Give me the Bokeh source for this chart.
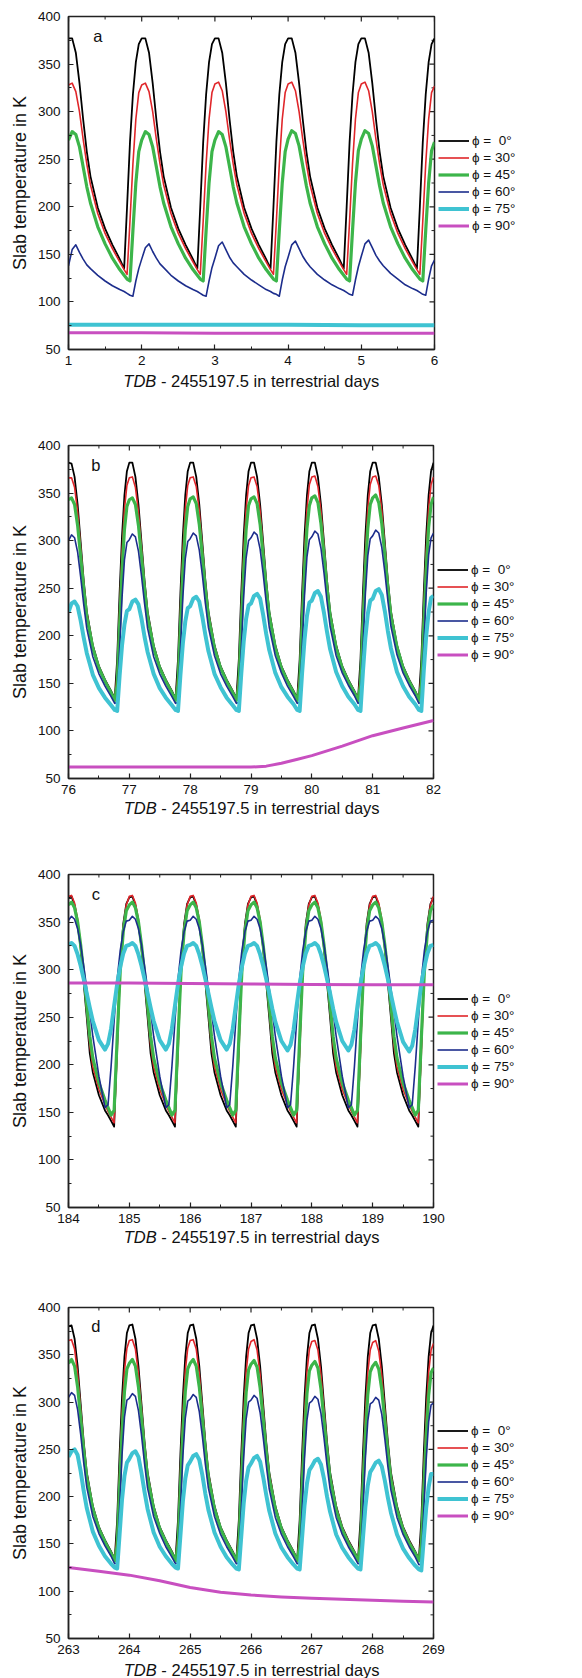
from bokeh.plotting import figure
from bokeh.layouts import column
from bokeh.models import (Range1d, SingleIntervalTicker, Legend, LegendItem, Label)
from bokeh.embed import file_html
from bokeh.resources import INLINE

FONT = "Liberation Sans"
LEGEND_LABELS = ["\u03d5 =  0\u00b0", "\u03d5 = 30\u00b0", "\u03d5 = 45\u00b0",
                 "\u03d5 = 60\u00b0", "\u03d5 = 75\u00b0", "\u03d5 = 90\u00b0"]
COLORS = ["#000000", "#e0262a", "#3cb54a", "#1c2d8c", "#3fc3d2", "#c84fc0"]
WIDTHS = [1.8, 1.6, 3.2, 1.6, 4.0, 3.0]

# ---------------- panel a ----------------
PH_A = [0.0, 0.05, 0.10, 0.15, 0.20, 0.25, 0.30, 0.40, 0.50, 0.60, 0.70, 0.76, 0.80, 0.84, 0.88, 0.92, 0.96]
DAYS_A = [1, 2, 3, 4, 5]
END_A = 6
A_phi0 = [[377, 377, 362, 330, 292, 258, 232, 199, 177, 160, 145, 135, 200, 268, 318, 352, 371],
          [377, 377, 362, 330, 292, 258, 232, 199, 177, 160, 145, 135, 200, 268, 318, 352, 371],
          [377, 377, 362, 330, 292, 258, 232, 199, 177, 160, 145, 135, 200, 268, 318, 352, 371],
          [377, 377, 362, 330, 292, 258, 232, 199, 177, 160, 145, 135, 200, 268, 318, 352, 371],
          [377, 377, 362, 330, 292, 258, 232, 199, 177, 160, 145, 135, 200, 268, 318, 352, 371]]
A_phi0_end = 377
A_phi30 = [[328, 330, 321, 300, 271, 245, 223, 193, 172, 156, 142, 134, 129, 185, 245, 292, 320],
           [328, 330, 321, 300, 271, 245, 223, 193, 172, 156, 142, 134, 129, 185, 245, 292, 320],
           [329, 331, 322, 300, 271, 245, 223, 193, 172, 156, 142, 134, 129, 185, 245, 292, 320],
           [329, 331, 322, 300, 271, 245, 223, 193, 172, 156, 142, 134, 129, 185, 245, 292, 320],
           [329, 331, 322, 300, 271, 245, 223, 193, 172, 156, 142, 134, 129, 185, 245, 292, 320]]
A_phi30_end = 327
A_phi45 = [[270, 279, 276, 263, 242, 221, 204, 179, 161, 146, 134, 128, 124, 122, 175, 225, 258],
           [270, 279, 276, 263, 242, 221, 204, 179, 161, 146, 134, 128, 124, 122, 175, 225, 258],
           [270, 279, 276, 263, 242, 221, 204, 179, 161, 146, 134, 128, 124, 122, 175, 225, 258],
           [271, 280, 277, 264, 243, 222, 204, 179, 161, 146, 134, 128, 124, 122, 175, 225, 259],
           [271, 280, 277, 264, 243, 222, 204, 179, 161, 146, 134, 128, 124, 122, 175, 225, 259]]
A_phi45_end = 268
A_phi60 = [[138, 155, 160, 152, 145, 139, 135, 128, 122, 117, 113, 111, 109, 107, 106, 122, 135],
           [145, 157, 161, 153, 146, 140, 136, 128, 122, 117, 113, 111, 109, 107, 106, 122, 136],
           [146, 159, 163, 155, 147, 141, 137, 129, 123, 118, 113, 111, 109, 108, 106, 123, 137],
           [147, 160, 164, 156, 148, 142, 137, 129, 123, 118, 114, 112, 110, 108, 107, 123, 137],
           [148, 161, 165, 157, 149, 143, 138, 130, 124, 118, 114, 112, 110, 108, 107, 124, 138]]
A_phi60_end = 144
A_flat_x = [1, 2, 3, 4, 5, 6]
A_phi75 = [76, 76, 76, 76, 75.5, 75.5]
A_phi90 = [67.5, 67.5, 67, 67, 67, 67]

# ---------------- panel b ----------------
PH_B = [0.0, 0.05, 0.10, 0.15, 0.20, 0.25, 0.30, 0.40, 0.50, 0.60, 0.70, 0.76, 0.80, 0.84, 0.88, 0.92, 0.96]
DAYS_B = [76, 77, 78, 79, 80, 81]
END_B = 82
B_phi0 = [[382, 381, 367, 338, 298, 258, 226, 190, 168, 154, 142, 134, 175, 245, 305, 348, 373],
          [382, 382, 367, 338, 298, 258, 226, 190, 168, 154, 142, 134, 175, 245, 305, 348, 373],
          [382, 382, 367, 338, 298, 258, 226, 190, 168, 154, 142, 134, 175, 245, 305, 348, 373],
          [382, 382, 367, 338, 298, 258, 226, 190, 168, 154, 142, 134, 175, 245, 305, 348, 373],
          [382, 382, 367, 338, 298, 258, 226, 190, 168, 154, 142, 134, 175, 245, 305, 348, 373],
          [382, 382, 367, 338, 298, 258, 226, 190, 168, 154, 142, 134, 175, 245, 305, 348, 373]]
B_phi0_end = 382
B_phi30 = [[366, 366, 356, 330, 293, 255, 224, 189, 167, 153, 141, 133, 160, 228, 288, 333, 358],
           [366, 367, 356, 330, 293, 255, 224, 189, 167, 153, 141, 133, 160, 228, 288, 333, 358],
           [366, 367, 357, 331, 293, 255, 224, 189, 167, 153, 141, 133, 160, 228, 288, 333, 358],
           [366, 367, 357, 331, 293, 255, 224, 189, 167, 153, 141, 133, 160, 228, 288, 333, 359],
           [367, 368, 357, 331, 294, 256, 224, 189, 167, 153, 141, 133, 160, 228, 288, 334, 359],
           [367, 368, 358, 332, 294, 256, 225, 189, 167, 153, 141, 133, 160, 229, 289, 334, 359]]
B_phi30_end = 367
B_phi45 = [[343, 345, 338, 316, 283, 249, 220, 187, 166, 152, 140, 132, 148, 210, 268, 312, 336],
           [343, 345, 338, 316, 283, 249, 220, 187, 166, 152, 140, 132, 148, 210, 268, 312, 336],
           [344, 346, 339, 317, 284, 249, 220, 187, 166, 152, 140, 132, 148, 210, 268, 312, 337],
           [344, 346, 339, 317, 284, 250, 221, 187, 166, 152, 140, 132, 148, 211, 269, 313, 337],
           [345, 347, 340, 318, 285, 250, 221, 187, 166, 152, 140, 132, 148, 211, 269, 313, 338],
           [345, 348, 340, 318, 285, 250, 221, 188, 166, 152, 140, 132, 148, 211, 270, 314, 338]]
B_phi45_end = 346
B_phi60 = [[300, 306, 303, 288, 262, 233, 208, 178, 160, 147, 136, 129, 130, 185, 240, 280, 298],
           [301, 307, 304, 289, 263, 234, 208, 178, 160, 147, 136, 129, 130, 186, 241, 281, 299],
           [302, 308, 305, 290, 264, 234, 209, 179, 160, 147, 136, 129, 130, 186, 242, 282, 300],
           [303, 309, 306, 291, 265, 235, 209, 179, 161, 147, 136, 129, 130, 187, 243, 283, 301],
           [304, 310, 307, 292, 266, 236, 210, 179, 161, 148, 137, 129, 130, 187, 244, 284, 302],
           [305, 311, 308, 293, 267, 237, 210, 180, 161, 148, 137, 129, 130, 188, 245, 285, 303]]
B_phi60_end = 308
B_phi75 = [[225, 234, 236, 231, 216, 198, 182, 159, 145, 135, 127, 122, 121, 158, 190, 212, 226],
           [228, 236, 238, 233, 218, 199, 183, 160, 145, 135, 127, 122, 121, 159, 192, 215, 229],
           [231, 239, 241, 236, 220, 201, 184, 160, 146, 135, 127, 122, 121, 160, 194, 218, 232],
           [234, 242, 244, 239, 222, 202, 185, 161, 146, 136, 128, 122, 121, 161, 196, 221, 235],
           [237, 245, 247, 241, 224, 204, 186, 162, 147, 136, 128, 122, 121, 162, 198, 223, 237],
           [239, 247, 249, 243, 226, 205, 187, 162, 147, 136, 128, 122, 121, 163, 200, 225, 240]]
B_phi75_end = 242
B_phi90_x = [76, 77, 78, 79, 79.25, 79.5, 79.75, 80, 80.5, 81, 81.5, 82]
B_phi90 = [62, 62, 62, 62, 63, 66, 70, 74, 84, 95, 103, 111]

# ---------------- panel c ----------------
PH_C = [0.0, 0.05, 0.10, 0.15, 0.20, 0.25, 0.30, 0.35, 0.40, 0.50, 0.60, 0.65, 0.70, 0.75, 0.80, 0.85, 0.90, 0.95]
DAYS_C = [184, 185, 186, 187, 188, 189]
END_C = 190
C_phi0 = [[376, 377, 368, 350, 322, 286, 250, 212, 192, 168, 152, 147, 141, 135, 222, 305, 348, 369],
          [376, 377, 368, 350, 322, 286, 250, 212, 192, 168, 152, 147, 141, 135, 222, 305, 348, 369],
          [376, 377, 368, 350, 322, 286, 250, 212, 192, 168, 152, 147, 141, 135, 222, 305, 348, 369],
          [376, 377, 368, 350, 322, 286, 250, 212, 192, 168, 152, 147, 141, 135, 222, 305, 348, 369],
          [376, 377, 368, 350, 322, 286, 250, 212, 192, 168, 152, 147, 141, 135, 222, 305, 348, 369],
          [376, 377, 368, 350, 322, 286, 250, 212, 192, 168, 152, 147, 141, 135, 222, 305, 348, 369]]
C_phi0_end = 376
C_phi30 = [[377, 378, 370, 353, 326, 292, 256, 220, 198, 174, 158, 151, 145, 139, 212, 298, 345, 368],
           [377, 378, 370, 353, 326, 292, 256, 220, 198, 174, 158, 151, 145, 139, 212, 298, 345, 368],
           [377, 378, 370, 353, 326, 292, 256, 220, 198, 174, 158, 151, 145, 139, 212, 298, 345, 368],
           [377, 378, 370, 353, 326, 292, 256, 220, 198, 174, 158, 151, 145, 139, 212, 298, 345, 368],
           [377, 378, 370, 353, 326, 292, 256, 220, 198, 174, 158, 151, 145, 139, 212, 298, 345, 368],
           [377, 378, 370, 353, 326, 292, 256, 220, 198, 174, 158, 151, 145, 139, 212, 298, 345, 368]]
C_phi30_end = 377
C_phi45 = [[368, 371, 365, 350, 326, 296, 263, 230, 207, 181, 163, 155, 147, 152, 228, 298, 340, 362],
           [368, 371, 365, 350, 326, 296, 263, 230, 207, 181, 163, 155, 147, 152, 228, 298, 340, 362],
           [368, 371, 365, 350, 326, 296, 263, 230, 207, 181, 163, 155, 147, 152, 228, 298, 340, 362],
           [368, 371, 365, 350, 326, 296, 263, 230, 207, 181, 163, 155, 147, 152, 228, 298, 340, 362],
           [368, 371, 365, 350, 326, 296, 263, 230, 207, 181, 163, 155, 147, 152, 228, 298, 340, 362],
           [368, 371, 365, 350, 326, 296, 263, 230, 207, 181, 163, 155, 147, 152, 228, 298, 340, 362]]
C_phi45_end = 368
C_phi60 = [[352, 356, 353, 343, 326, 304, 280, 256, 230, 188, 155, 158, 198, 246, 290, 320, 340, 351],
           [352, 356, 353, 343, 326, 304, 280, 256, 230, 188, 155, 158, 198, 246, 290, 320, 340, 351],
           [352, 356, 353, 343, 326, 304, 280, 256, 230, 188, 155, 158, 198, 246, 290, 320, 340, 351],
           [352, 356, 353, 343, 326, 304, 280, 256, 230, 188, 155, 158, 198, 246, 290, 320, 340, 351],
           [352, 356, 353, 343, 326, 304, 280, 256, 230, 188, 155, 158, 198, 246, 290, 320, 340, 351],
           [352, 356, 353, 343, 326, 304, 280, 256, 230, 188, 155, 158, 198, 246, 290, 320, 340, 351]]
C_phi60_end = 352
C_phi75 = [[326, 328, 325, 316, 304, 290, 275, 260, 246, 226, 216, 222, 238, 262, 285, 303, 317, 325],
           [326, 328, 325, 316, 304, 290, 275, 260, 246, 226, 216, 222, 238, 262, 285, 303, 317, 325],
           [326, 328, 325, 316, 304, 290, 275, 260, 246, 226, 216, 222, 238, 262, 285, 303, 317, 325],
           [326, 328, 325, 316, 304, 290, 275, 259, 245, 225, 215, 221, 237, 262, 285, 303, 317, 325],
           [326, 328, 325, 316, 304, 290, 275, 259, 245, 225, 215, 221, 237, 262, 285, 303, 317, 325],
           [326, 328, 325, 316, 304, 290, 274, 259, 245, 224, 214, 220, 237, 261, 285, 303, 317, 325]]
C_phi75_end = 326
C_phi90_x = [184, 185, 186, 187, 188, 189, 190]
C_phi90 = [286, 286, 285.5, 285, 284.5, 284, 284]

# ---------------- panel d ----------------
PH_D = [0.0, 0.05, 0.10, 0.15, 0.20, 0.25, 0.30, 0.40, 0.50, 0.60, 0.70, 0.76, 0.80, 0.84, 0.88, 0.92, 0.96]
DAYS_D = [263, 264, 265, 266, 267, 268]
END_D = 269
D_phi0 = [[380, 381, 367, 338, 298, 258, 226, 190, 168, 154, 142, 134, 175, 245, 305, 348, 373],
          [381, 382, 367, 338, 298, 258, 226, 190, 168, 154, 142, 134, 175, 245, 305, 348, 373],
          [381, 382, 367, 338, 298, 258, 226, 190, 168, 154, 142, 134, 175, 245, 305, 348, 373],
          [381, 382, 367, 338, 298, 258, 226, 190, 168, 154, 142, 134, 175, 245, 305, 348, 373],
          [381, 382, 367, 338, 298, 258, 226, 190, 168, 154, 142, 134, 175, 245, 305, 348, 373],
          [381, 382, 367, 338, 298, 258, 226, 190, 168, 154, 142, 134, 175, 245, 305, 348, 373]]
D_phi0_end = 381
D_phi30 = [[365, 366, 356, 330, 293, 255, 224, 189, 167, 153, 141, 133, 160, 228, 288, 333, 357],
           [365, 366, 356, 330, 293, 255, 224, 189, 167, 153, 141, 133, 160, 228, 288, 333, 357],
           [365, 366, 356, 330, 293, 255, 224, 189, 167, 153, 141, 133, 160, 228, 288, 332, 356],
           [364, 366, 355, 329, 292, 254, 224, 189, 167, 153, 141, 133, 160, 227, 287, 332, 356],
           [364, 365, 355, 329, 292, 254, 223, 189, 167, 153, 141, 133, 160, 227, 287, 331, 355],
           [363, 365, 354, 328, 291, 254, 223, 188, 167, 153, 141, 133, 160, 227, 286, 331, 355]]
D_phi30_end = 362
D_phi45 = [[341, 345, 338, 316, 283, 249, 220, 187, 166, 152, 140, 132, 148, 210, 268, 311, 335],
           [341, 345, 338, 316, 283, 249, 220, 187, 166, 152, 140, 132, 148, 210, 268, 311, 335],
           [341, 345, 338, 316, 283, 249, 220, 187, 166, 152, 140, 132, 148, 210, 267, 310, 334],
           [340, 344, 337, 315, 282, 248, 219, 187, 166, 152, 140, 132, 148, 209, 266, 309, 333],
           [339, 343, 336, 314, 281, 248, 219, 186, 165, 151, 140, 132, 148, 209, 265, 308, 332],
           [338, 342, 335, 313, 280, 247, 218, 186, 165, 151, 140, 132, 148, 208, 264, 307, 331]]
D_phi45_end = 336
D_phi60 = [[305, 310, 307, 292, 266, 236, 210, 179, 161, 148, 137, 129, 130, 187, 244, 284, 302],
           [304, 309, 306, 291, 265, 235, 209, 179, 161, 147, 136, 129, 130, 187, 243, 283, 301],
           [303, 308, 305, 290, 264, 234, 209, 179, 160, 147, 136, 129, 130, 186, 242, 282, 300],
           [302, 307, 304, 289, 263, 234, 208, 178, 160, 147, 136, 129, 130, 186, 241, 281, 299],
           [301, 306, 303, 288, 262, 233, 208, 178, 160, 147, 136, 129, 130, 185, 240, 280, 298],
           [300, 305, 302, 287, 261, 232, 207, 178, 160, 147, 136, 128, 129, 185, 239, 279, 297]]
D_phi60_end = 299
D_phi75 = [[242, 248, 250, 244, 227, 206, 188, 163, 148, 137, 129, 125, 124, 160, 197, 222, 236],
           [240, 246, 248, 242, 225, 205, 187, 162, 147, 137, 129, 125, 124, 159, 195, 219, 233],
           [237, 243, 245, 239, 223, 203, 186, 162, 147, 136, 128, 124, 123, 158, 193, 217, 231],
           [235, 241, 243, 237, 221, 202, 185, 161, 146, 136, 128, 124, 123, 157, 191, 214, 228],
           [232, 238, 240, 234, 219, 200, 184, 160, 146, 136, 128, 124, 123, 156, 189, 212, 226],
           [230, 236, 238, 232, 217, 199, 183, 160, 145, 135, 127, 123, 122, 155, 188, 210, 224]]
D_phi75_end = 224
D_phi90_x = [263, 263.5, 264, 264.5, 265, 265.5, 266, 266.5, 267, 267.5, 268, 268.5, 269]
D_phi90 = [125, 121, 117, 111, 104, 99, 96, 94, 92.5, 91.5, 90.5, 89.5, 88.5]


def grid(days, phases, end):
    return [d + ph for d in days for ph in phases] + [end]


def flat(rows, end):
    return [v for r in rows for v in r] + [end]


def make_panel(letter, xr, letter_x, geom, series, split_x, lab_y, tdb_side):
    left, fw, top, fh, bottom = geom
    p = figure(output_backend="svg", toolbar_location=None,
               frame_width=fw, frame_height=fh,
               min_border_left=left, min_border_right=0,
               min_border_top=top, min_border_bottom=bottom,
               x_range=Range1d(*xr), y_range=Range1d(50, 400),
               background_fill_color="white", border_fill_color="white")
    p.xgrid.visible = False
    p.ygrid.visible = False
    p.outline_line_color = "#222222"
    p.outline_line_width = 1.5

    p.xaxis.ticker = SingleIntervalTicker(interval=1, num_minor_ticks=2)
    p.yaxis.ticker = SingleIntervalTicker(interval=50, num_minor_ticks=2)
    for ax in [p.xaxis[0], p.yaxis[0]]:
        ax.axis_line_color = "#222222"
        ax.axis_line_width = 1.5
        ax.major_tick_in = 5
        ax.major_tick_out = 0
        ax.minor_tick_in = 3
        ax.minor_tick_out = 0
        ax.major_tick_line_color = "#222222"
        ax.minor_tick_line_color = "#222222"
        ax.major_tick_line_width = 1.2
        ax.minor_tick_line_width = 1.0
        ax.major_label_text_font = FONT
        ax.major_label_text_font_size = "13.5px"
        ax.major_label_text_color = "#111111"
    p.xaxis[0].major_label_standoff = 6
    p.yaxis[0].major_label_standoff = 8
    p.yaxis[0].axis_label = "Slab temperature in K"
    p.yaxis[0].axis_label_text_font = FONT
    p.yaxis[0].axis_label_text_font_size = "18px"
    p.yaxis[0].axis_label_text_font_style = "normal"
    p.yaxis[0].axis_label_text_color = "#111111"
    p.yaxis[0].axis_label_standoff = 5

    # mirrored inward ticks on the top and right frame edges
    x0, x1 = xr
    top_major = [float(v) for v in range(int(x0), int(x1) + 1)]
    top_minor = [v + 0.5 for v in top_major[:-1]]
    dy_major = 5 * 350.0 / fh
    dy_minor = 3 * 350.0 / fh
    p.segment(x0=top_major, y0=[400] * len(top_major), x1=top_major,
              y1=[400 - dy_major] * len(top_major), line_color="#222222", line_width=1.2)
    p.segment(x0=top_minor, y0=[400] * len(top_minor), x1=top_minor,
              y1=[400 - dy_minor] * len(top_minor), line_color="#222222", line_width=1.0)
    r_major = list(range(50, 401, 50))
    r_minor = list(range(75, 400, 50))
    dx_major = 5 * (x1 - x0) / fw
    dx_minor = 3 * (x1 - x0) / fw
    p.segment(x0=[x1] * len(r_major), y0=r_major, x1=[x1 - dx_major] * len(r_major),
              y1=r_major, line_color="#222222", line_width=1.2)
    p.segment(x0=[x1] * len(r_minor), y0=r_minor, x1=[x1 - dx_minor] * len(r_minor),
              y1=r_minor, line_color="#222222", line_width=1.0)

    items = []
    for (xs, ys), lab, col, w in zip(series, LEGEND_LABELS, COLORS, WIDTHS):
        r = p.line(xs, ys, line_color=col, line_width=w, line_join="round")
        items.append(LegendItem(label=lab, renderers=[r]))
    leg = Legend(items=items, location="center_left", border_line_color=None,
                 background_fill_alpha=0, margin=4, padding=0, spacing=2,
                 glyph_width=31, glyph_height=15, label_height=15,
                 label_standoff=3, label_text_font=FONT,
                 label_text_font_size="13.5px", label_text_color="#111111")
    p.add_layout(leg, "right")

    p.add_layout(Label(x=letter_x, y=380, text=letter, text_font=FONT,
                       text_font_size="16.5px", text_align="center",
                       text_baseline="middle", text_color="#111111"))
    lab1 = Label(x=split_x, y=lab_y, x_units="data", y_units="data",
                 text="TDB", text_font=FONT, text_font_size="16.5px",
                 text_font_style="italic", text_baseline="middle",
                 text_align="right", text_color="#111111")
    lab2 = Label(x=split_x, y=lab_y, x_units="data", y_units="data", x_offset=4.6,
                 text="- 2455197.5 in terrestrial days", text_font=FONT,
                 text_font_size="16.5px", text_baseline="middle",
                 text_align="left", text_color="#111111")
    p.add_layout(lab1, tdb_side)
    p.add_layout(lab2, "below")
    return p


xa = grid(DAYS_A, PH_A, END_A)
series_a = [(xa, flat(A_phi0, A_phi0_end)), (xa, flat(A_phi30, A_phi30_end)),
            (xa, flat(A_phi45, A_phi45_end)), (xa, flat(A_phi60, A_phi60_end)),
            (A_flat_x, A_phi75), (A_flat_x, A_phi90)]
xb = grid(DAYS_B, PH_B, END_B)
series_b = [(xb, flat(B_phi0, B_phi0_end)), (xb, flat(B_phi30, B_phi30_end)),
            (xb, flat(B_phi45, B_phi45_end)), (xb, flat(B_phi60, B_phi60_end)),
            (xb, flat(B_phi75, B_phi75_end)), (B_phi90_x, B_phi90)]
xc = grid(DAYS_C, PH_C, END_C)
series_c = [(xc, flat(C_phi0, C_phi0_end)), (xc, flat(C_phi30, C_phi30_end)),
            (xc, flat(C_phi45, C_phi45_end)), (xc, flat(C_phi60, C_phi60_end)),
            (xc, flat(C_phi75, C_phi75_end)), (C_phi90_x, C_phi90)]
xd = grid(DAYS_D, PH_D, END_D)
series_d = [(xd, flat(D_phi0, D_phi0_end)), (xd, flat(D_phi30, D_phi30_end)),
            (xd, flat(D_phi45, D_phi45_end)), (xd, flat(D_phi60, D_phi60_end)),
            (xd, flat(D_phi75, D_phi75_end)), (D_phi90_x, D_phi90)]

pa = make_panel("a", (1, 6), 1.40, (63, 366, 16, 333, 71), series_a, 2.20, 17.4, "below")
pb = make_panel("b", (76, 82), 76.45, (68, 365, 25, 333, 62), series_b, 77.45, 18.5, "below")
pc = make_panel("c", (184, 190), 184.45, (68, 365, 34, 333, 53), series_c, 185.45, 18.5, "above")
pd = make_panel("d", (263, 269), 263.45, (68, 365, 47, 331, 40), series_d, 264.45, 16.2, "above")

layout = column(pa, pb, pc, pd, spacing=0)
open("out.html", "w").write(file_html(layout, INLINE))
